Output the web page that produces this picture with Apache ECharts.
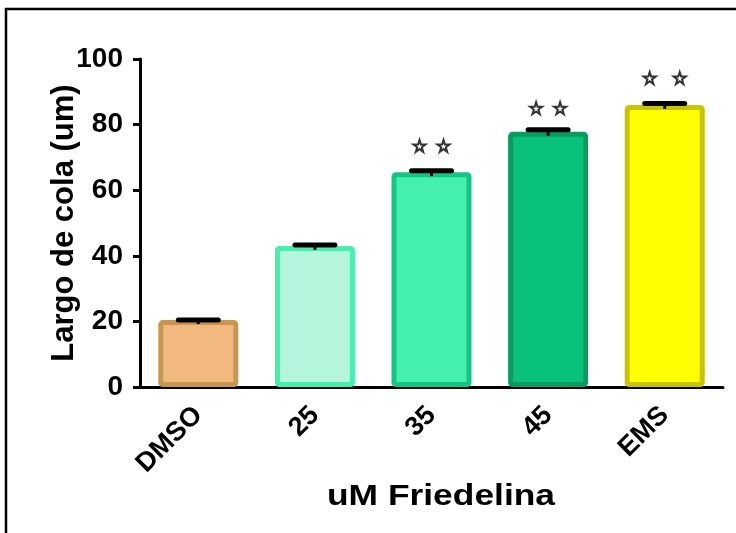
<!DOCTYPE html>
<html><head><meta charset="utf-8">
<script src="https://cdn.jsdelivr.net/npm/echarts@6/dist/echarts.min.js"></script>
<style>html,body{margin:0;padding:0;background:#fff}#c{width:736px;height:533px}</style>
</head><body><div id="c"></div>
<script>
const categories = ['DMSO', '25', '35', '45', 'EMS'];
const means = [20.4, 43.0, 65.5, 77.8, 86.0];
const errors = [0.0, 0.3, 0.4, 0.6, 0.4];
const starY = [null, null, 73.5, 85.0, 94.2];
const yTicks = [0, 20, 40, 60, 80, 100];
const fillColors = ['#F1B97E', '#B4F5DC', '#45F0AE', '#08C17B', '#FFFF00'];
const borderColors = ['#C9964F', '#44F0AE', '#14C585', '#0A9B62', '#C8C400'];

const starPath = 'path://M50,2 L61,36 L97,36 L68,57 L79,92 L50,71 L21,92 L32,57 L3,36 L39,36 Z';
const starOff = [12, 12, 12, 12, 15];

const chart = echarts.init(document.getElementById('c'));
const F = '"Liberation Sans", Arial, sans-serif';

chart.setOption({
  animation: false,
  grid: {left: 140, right: 13, top: 59, bottom: 146},
  xAxis: {
    type: 'category', data: categories,
    axisLine: {lineStyle: {color: '#000', width: 3}},
    axisTick: {alignWithLabel: true, length: 8, lineStyle: {color: '#000', width: 3}},
    axisLabel: {rotate: 45, margin: 24, color: '#000', fontWeight: 'bold', fontSize: 27, fontFamily: F}
  },
  yAxis: {
    type: 'value', min: 0, max: 100, interval: 20,
    name: 'Largo de cola (um)', nameLocation: 'middle', nameGap: 60, nameMoveOverlap: false,
    nameTextStyle: {color: '#000', fontWeight: 'bold', fontSize: 31, fontFamily: F},
    axisLine: {show: true, lineStyle: {color: '#000', width: 3}},
    axisTick: {show: true, length: 7, lineStyle: {color: '#000', width: 3}},
    splitLine: {show: false},
    axisLabel: {margin: 17, color: '#000', fontWeight: 'bold', fontSize: 28, fontFamily: F,
      formatter: v => yTicks.includes(v) ? String(v) : ''}
  },
  graphic: [
    {type: 'rect', shape: {x: 6, y: 9, width: 760, height: 560}, style: {fill: 'none', stroke: '#000', lineWidth: 2.5}, silent: true},
    {type: 'text', x: 441, y: 497, scaleX: 1.22,
      style: {text: 'uM Friedelina', fill: '#000', font: 'bold 29px "Liberation Sans", Arial, sans-serif', textAlign: 'center', textVerticalAlign: 'middle'}}
  ],
  series: [
    {
      type: 'bar', barWidth: 80,
      data: means.map((v, i) => ({value: v, itemStyle: {color: fillColors[i], borderColor: borderColors[i], borderWidth: 5, borderRadius: 2}}))
    },
    {
      type: 'custom', z: 5,
      data: means.map((v, i) => [i, v, v + errors[i]]),
      renderItem: (params, api) => {
        const x = api.coord([api.value(0), api.value(1)]);
        const top = api.coord([api.value(0), api.value(2)]);
        const hw = 20;
        return {type: 'group', children: [
          {type: 'line', shape: {x1: x[0], y1: x[1] + 4, x2: x[0], y2: top[1]}, style: {stroke: '#000', lineWidth: 3}},
          {type: 'line', shape: {x1: top[0] - hw, y1: top[1], x2: top[0] + hw, y2: top[1]}, style: {stroke: '#000', lineWidth: 5, lineCap: 'round'}}
        ]};
      }
    },
    {
      type: 'scatter', symbol: starPath, symbolSize: 12, z: 6,
      itemStyle: {color: '#fff', borderColor: '#000', borderWidth: 2},
      data: starY.map((v, i) => ({value: [i, v], symbolOffset: [-starOff[i], 0]}))
    },
    {
      type: 'scatter', symbol: starPath, symbolSize: 12, z: 6,
      itemStyle: {color: '#fff', borderColor: '#000', borderWidth: 2},
      data: starY.map((v, i) => ({value: [i, v], symbolOffset: [starOff[i], 0]}))
    }
  ]
});
</script></body></html>
